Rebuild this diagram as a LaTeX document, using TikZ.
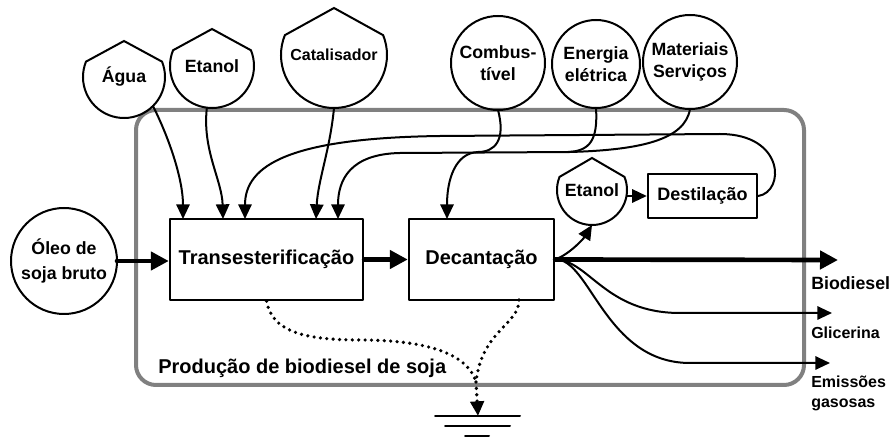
\documentclass[tikz,border=0pt]{standalone}
\usepackage{fontspec}
\setmainfont{Liberation Sans}
\usetikzlibrary{arrows.meta,calc}
\newcommand\srcshape[3]{\draw[line width=1.5pt, line join=miter] (#1.158) arc[start angle=158, end angle=382, radius=#2] -- ($(#1.center)+(0pt,#3)$) -- cycle;}
\begin{document}
\begin{tikzpicture}[x=0.75pt, y=-0.75pt, font=\bfseries, line join=round, line cap=round, >={Triangle[length=11pt,width=10pt]},
		flow/.style={line width=1.5pt, ->},
		heavy/.style={line width=3.5pt, -{Triangle[length=13.5pt,width=13.5pt]}},
		waste/.style={line width=2.7pt, dash pattern=on 0pt off 4.8pt},
		proc/.style={draw, line width=1.8pt, inner sep=0pt, font=\fontsize{15}{18}\selectfont\bfseries},
		src/.style={circle, inner sep=0pt, outer sep=0pt, align=center, font=\fontsize{13.3}{17}\selectfont\bfseries},
		ext/.style={src, draw, line width=1.5pt},
		lbl/.style={anchor=west, inner sep=0pt, align=left, font=\fontsize{12}{15}\selectfont\bfseries}]
			\useasboundingbox (0,0) rectangle (893,438);
			\def\ytop{219}
			\draw[line width=3pt, black!50, rounded corners=15pt] (136,110) rectangle (804,385);
			\node[proc, minimum width=144.75pt, minimum height=60.75pt] (trans) at (266.5,259.5) {Transesterificação};
			\node[proc, minimum width=108.75pt, minimum height=60.75pt] (decant) at (481.5,259.5) {Decantação};
			\node[proc, minimum width=81.75pt, minimum height=33pt, font=\fontsize{13.5}{16}\selectfont\bfseries] (destil) at (702.5,196) {Destilação};
			\node[ext, minimum size=79.5pt, font=\fontsize{13.3}{18.5}\selectfont\bfseries] (oleo) at (64,261) {Óleo de\\soja bruto};
			\node[ext, minimum size=70.5pt] (comb) at (498,63) {Combus-\\tível};
			\node[ext, minimum size=66pt] (energia) at (596,64) {Energia\\elétrica};
			\node[ext, minimum size=70.5pt] (mater) at (690,62) {Materiais\\Serviços};
			\node[src, minimum size=61.5pt] (agua) at (124,77) {Água};
			\node[src, minimum size=63pt] (etanolA) at (212,66) {Etanol};
			\node[src, minimum size=79.5pt, font=\fontsize{12}{14}\selectfont\bfseries] (catal) at (334,55) {Catalisador};
			\node[src, minimum size=52.5pt] (etanolB) at (592,190) {Etanol};
			\srcshape{agua}{30.75pt}{27pt}
			\srcshape{etanolA}{31.5pt}{27.75pt}
			\srcshape{catal}{39.75pt}{35.25pt}
			\srcshape{etanolB}{26.25pt}{24pt}
			\node[lbl, font=\fontsize{15}{18}\selectfont\bfseries] (sistema) at (158,368) {Produção de biodiesel de soja};
			\node[lbl, font=\fontsize{13.3}{16}\selectfont\bfseries] (biolab) at (811,283) {Biodiesel};
			\node[lbl] (glilab) at (811,333) {Glicerina};
			\node[lbl] (emilab) at (811,393) {Emissões\\gasosas};
			\coordinate (bioT) at (838,260);
			\coordinate (gliT) at (832,313);
			\coordinate (emiT) at (830,363);
			\coordinate (junta) at (478,152);
			\coordinate (juntb) at (568,152);
			\coordinate (fundo) at (476,382);
			\coordinate (terra) at (478,416);
			\draw[heavy] (oleo.east) -- (oleo.east -| trans.west);
			\draw[heavy] (trans) -- (decant);
			\draw[heavy] (decant.east) -- (bioT);
			\draw[flow] (decant.east) .. controls (589,260) and (605,313) .. (680,313) -- (gliT);
			\draw[flow] (decant.east) .. controls (590,258) and (605,363) .. (690,363) -- (emiT);
			\draw[flow] (decant.east) .. controls (570,254) and (584,238) .. (etanolB.south);
			\draw[flow] (destil.west -| etanolB.east) -- (destil.west);
			\draw[flow] (destil.east) .. controls (785,192) and (785,134) .. (720,134) -- (440,136) .. controls (290,138) and (245,165) .. (245,\ytop);
			\draw[flow] (mater.south) .. controls (685,140) and (640,150) .. (570,152) -- (400,153) .. controls (350,154) and (338,180) .. (338,\ytop);
			\draw[line width=1.5pt] (energia.south) .. controls (598,140) and (590,151) .. (juntb);
			\draw[flow] (comb.south) .. controls (506,140) and (495,152) .. (junta) .. controls (455,153) and (447,180) .. (447,\ytop);
			\draw[flow] (agua.-45) .. controls (170,140) and (183,180) .. (183,\ytop);
			\draw[flow] (etanolA.-97) .. controls (202,150) and (222,180) .. (223,\ytop);
			\draw[flow] (catal.south) .. controls (330,150) and (318,180) .. (316,\ytop);
			\draw[waste] (trans.south) .. controls (272,330) and (300,340) .. (360,340) .. controls (430,340) and (468,355) .. (fundo);
			\draw[waste] (519,300) .. controls (519,325) and (482,330) .. (fundo);
			\draw[waste, ->] (fundo) -- (terra);
			\draw[line width=1.5pt] (435,416) -- (520,416) (445,426) -- (510,426) (465,436) -- (489,436);
		\end{tikzpicture}
\end{document}
